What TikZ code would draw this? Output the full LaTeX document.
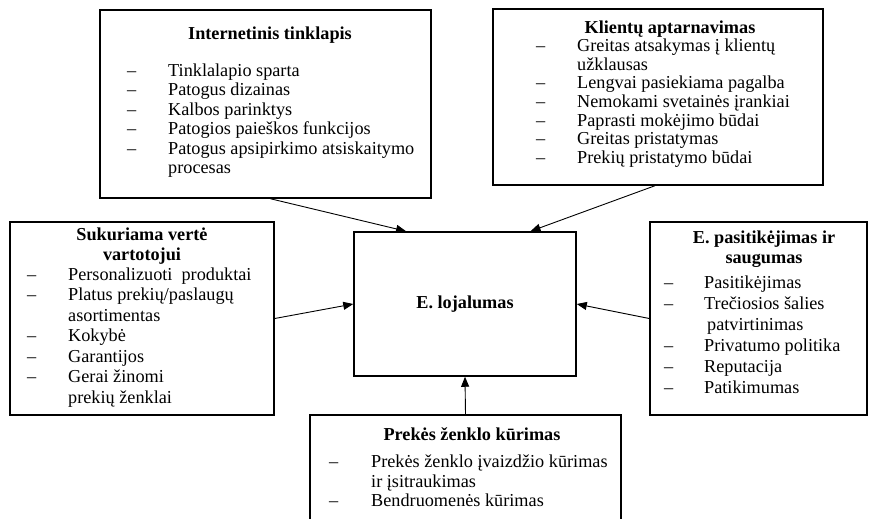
\documentclass[tikz,border=0pt]{standalone}
\usepackage{fontspec}
\setmainfont{Liberation Serif}
\usepackage{tikz}
\usetikzlibrary{arrows.meta}
\newcommand{\itm}{\textendash&}

\begin{document}
\begin{tikzpicture}[x=1bp,y=-1bp,>={Triangle[length=10bp,width=8bp]},
  every node/.style={font=\fontsize{18.3}{19.4}\selectfont},
  box/.style={draw,line width=1.5bp,inner sep=0pt},
  head/.style={font=\fontsize{18.3}{20}\selectfont\bfseries,align=center,inner sep=0pt},
  list/.style={anchor=north west,inner sep=0pt,font=\fontsize{18.3}{#1}\selectfont},
  link/.style={->,line width=0.9bp}]
\path[use as bounding box,clip] (0,0) rectangle (870,519);
% boxes
\node[box,minimum width=331bp,minimum height=188bp] (web) at (265.5,104) {};
\node[box,minimum width=330bp,minimum height=176bp] (service) at (658,97) {};
\node[box,minimum width=264bp,minimum height=193bp] (value) at (142,318.5) {};
\node[box,minimum width=222bp,minimum height=144bp,font=\fontsize{18.3}{19.4}\selectfont\bfseries] (loyal) at (465,304) {E. lojalumas};
\node[box,minimum width=217bp,minimum height=193bp] (trust) at (758.5,318.5) {};
\node[box,minimum width=311bp,minimum height=110bp] (brand) at (465.5,470) {};
% titles
\node[head] (webtitle) at (270,35) {Internetinis tinklapis};
\node[head] (servicetitle) at (670,29) {Klientų aptarnavimas};
\node[head] (valuetitle) at (142,246) {Sukuriama vertė\\vartotojui};
\node[head] (trusttitle) at (764,249) {E. pasitikėjimas ir\\saugumas};
\node[head] (brandtitle) at (472,434) {Prekės ženklo kūrimas};
% lists
\node[list=19.5] (weblist) at (127,62.5) {\begin{tabular}{@{}p{41bp}@{}l@{}}
\itm Tinklalapio sparta\\
\itm Patogus dizainas\\
\itm Kalbos parinktys\\
\itm Patogios paieškos funkcijos\\
\itm Patogus apsipirkimo atsiskaitymo\\
& procesas\\
\end{tabular}};
\node[list=18.7] (servicelist) at (536,38.4) {\begin{tabular}{@{}p{41bp}@{}l@{}}
\itm Greitas atsakymas į klientų\\
& užklausas\\
\itm Lengvai pasiekiama pagalba\\
\itm Nemokami svetainės įrankiai\\
\itm Paprasti mokėjimo būdai\\
\itm Greitas pristatymas\\
\itm Prekių pristatymo būdai\\
\end{tabular}};
\node[list=20.5] (valuelist) at (27,266) {\begin{tabular}{@{}p{41bp}@{}l@{}}
\itm Personalizuoti~ produktai\\
\itm Platus prekių/paslaugų\\
& asortimentas\\
\itm Kokybė\\
\itm Garantijos\\
\itm Gerai žinomi\\
& prekių ženklai\\
\end{tabular}};
\node[list=21] (trustlist) at (664,273.8) {\begin{tabular}{@{}p{40bp}@{}l@{}}
\itm Pasitikėjimas\\
\itm Trečiosios šalies\\
& \hspace{3bp}patvirtinimas\\
\itm Privatumo politika\\
\itm Reputacija\\
\itm Patikimumas\\
\end{tabular}};
\node[list=19.5] (brandlist) at (329,453.8) {\begin{tabular}{@{}p{42bp}@{}l@{}}
\itm Prekės ženklo įvaizdžio kūrimas\\
& ir įsitraukimas\\
\itm Bendruomenės kūrimas\\
\end{tabular}};
% connectors
\draw[link] (web.-87.3) -- (loyal.129.8);
\draw[link] (service.-92) -- (loyal.48.8);
\draw[link] (value.east) -- (loyal.west);
\draw[link] (trust.west) -- (loyal.east);
\draw[link] (brand.north) -- (loyal.south);
\end{tikzpicture}
\end{document}
